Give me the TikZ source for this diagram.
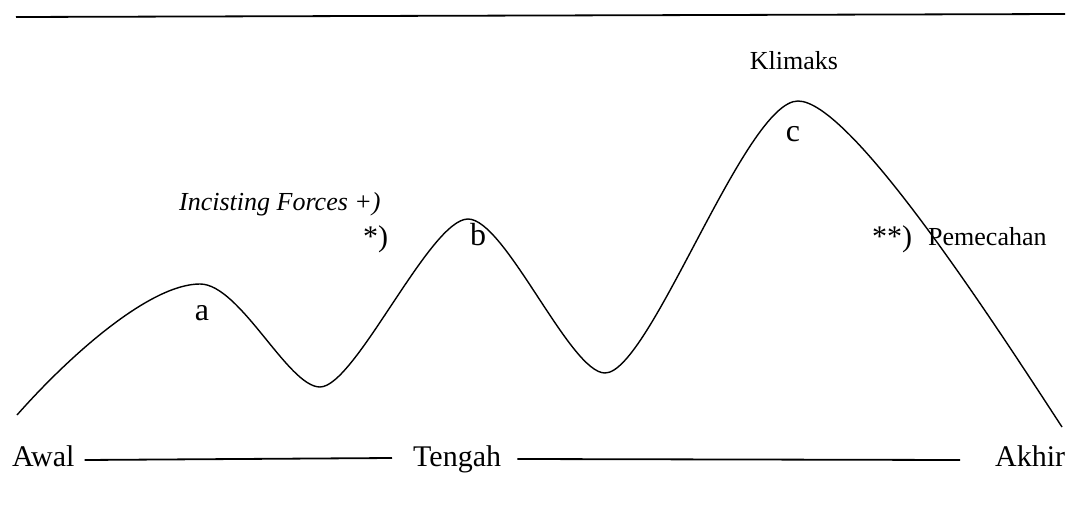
\documentclass[tikz,border=0pt]{standalone}
\usepackage{fontspec}
\setmainfont{Liberation Serif}
\begin{document}
\begin{tikzpicture}[x=1pt,y=-1pt,
  lbl/.style={inner sep=0pt,anchor=base,font=\fontsize{32}{38}\selectfont},
  small/.style={inner sep=0pt,anchor=base west,font=\fontsize{26}{31}\selectfont},
  mid/.style={inner sep=0pt,anchor=base west,font=\fontsize{30}{36}\selectfont},
  stage/.style={inner sep=0pt,anchor=base west,font=\fontsize{30}{36}\selectfont},
  rule/.style={line width=1.8pt},
  plotline/.style={line width=1.4pt}]
\useasboundingbox (0,0) rectangle (1072,511);
% top rule
\coordinate (tl) at (16,17);
\coordinate (tr) at (1065,14);
\draw[line width=1.8pt] (tl) -- (tr);
% plot curve
\coordinate (s) at (17,415);
\coordinate (pa) at (200,284);
\coordinate (t1) at (320,387);
\coordinate (pb) at (468,219);
\coordinate (t2) at (605,373);
\coordinate (pc) at (798,101);
\coordinate (e) at (1062,427);
\draw[plotline] (s) .. controls (70,355) and (150,284) .. (pa)
  .. controls (240,284) and (288,387) .. (t1)
  .. controls (355,387) and (430,219) .. (pb)
  .. controls (505,219) and (570,373) .. (t2)
  .. controls (650,373) and (745,101) .. (pc)
  .. controls (850,101) and (989,315) .. (e);
% labels
\node[lbl] (a) at (202,320) {a};
\node[lbl] (b) at (478,245) {b};
\node[lbl] (c) at (793,141) {c};
\node[small,anchor=base] (klimaks) at (794,70) {Klimaks};
\node[small] (incist) at (179,210) {\itshape Incisting Forces +)};
\node[mid] (star1) at (363,246) {*)};
\node[mid] (star2) at (872,246) {**)};
\node[small] (pemecahan) at (928,245) {Pemecahan};
% stages
\node[stage] (awal) at (12,466) {Awal};
\node[stage] (tengah) at (413,466) {Tengah};
\node[stage] (akhir) at (995,466) {Akhir};
\draw[rule] ([xshift=10pt,yshift=6pt]awal.base east) -- ([xshift=-21pt,yshift=8pt]tengah.base west);
\draw[rule] ([xshift=16pt,yshift=7pt]tengah.base east) -- ([xshift=-35pt,yshift=6pt]akhir.base west);
\end{tikzpicture}
\end{document}
